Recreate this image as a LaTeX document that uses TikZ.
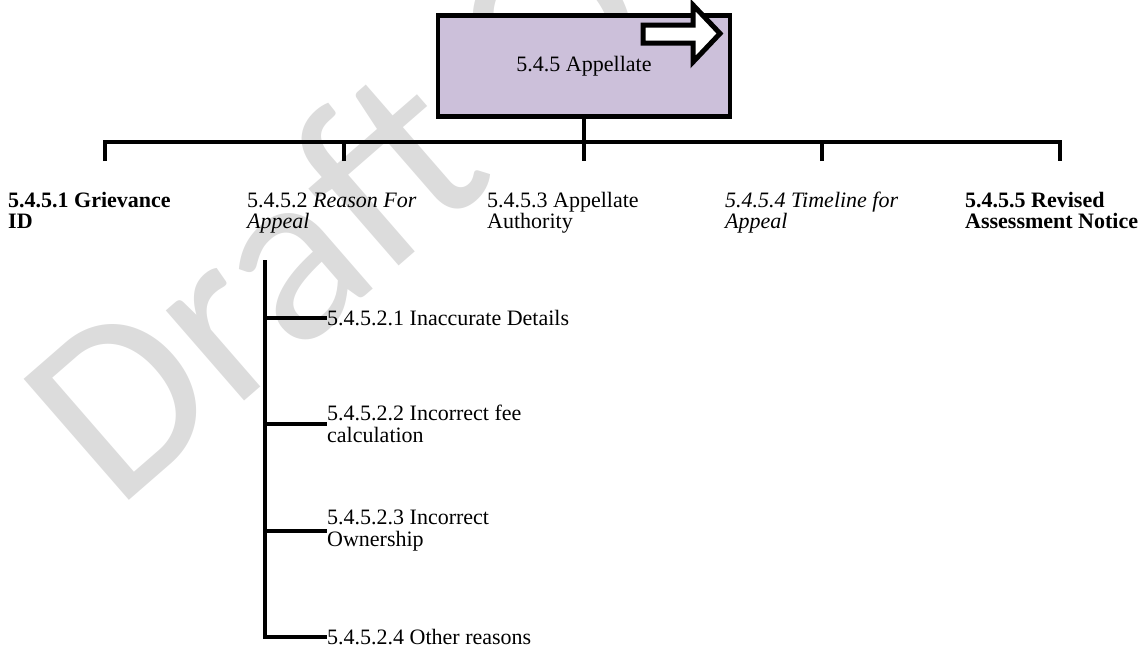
\documentclass[tikz,border=0pt]{standalone}
\usepackage{fontspec}
\setmainfont{Liberation Serif}
\newfontfamily\wmfont{Carlito}
\definecolor{lav}{RGB}{204,192,218}
\definecolor{wm}{RGB}{220,220,220}
\begin{document}
\begin{tikzpicture}[x=1pt,y=-1pt,
  conn/.style={line width=4.5pt, line join=miter},
  lbl/.style={anchor=base west, inner sep=0pt, align=left, font=\fontsize{22}{21.5}\selectfont},
  sub/.style={anchor=west, inner sep=0pt, align=left, font=\fontsize{22}{22}\selectfont},
  topbox/.style={draw, line width=4.5pt, fill=lav, minimum width=292pt, minimum height=101pt, inner sep=0pt, font=\fontsize{22}{22}\selectfont}]
\useasboundingbox (0,0) rectangle (1148,648);
% watermark
\begin{scope}
\clip (0,0) rectangle (1148,648);
\node[anchor=base west, rotate=41, inner sep=0pt, text=wm, font=\wmfont\fontsize{250}{250}\selectfont] (wmark) at (116,512) {Draft O};
\end{scope}
% main box
\node[topbox] (main) at (584,66) {5.4.5 Appellate};
\draw[line width=5pt, fill=white, line join=miter] (643,25) -- (693,25) -- (693,5) -- (720,33.5) -- (693,62) -- (693,43) -- (643,43) -- cycle;
% branch coordinates
\coordinate (j) at (584,142);
\coordinate (e1) at (105,161);
\coordinate (e2) at (344,161);
\coordinate (e3) at (584,161);
\coordinate (e4) at (822,161);
\coordinate (e5) at (1060,161);
\draw[conn] (main.south) -- (e3);
\draw[conn] (e1) |- (j) -| (e5);
\draw[conn] (e2) -- (e2 |- j);
\draw[conn] (e4) -- (e4 |- j);
% labels
\node[lbl] (l1) at (8,228.5) {\bfseries 5.4.5.1 Grievance\\\bfseries ID};
\node[lbl] (l2) at (247,228.5) {5.4.5.2 \itshape Reason For\\\itshape Appeal};
\node[lbl] (l3) at (487,228.5) {5.4.5.3 Appellate\\Authority};
\node[lbl] (l4) at (725,228.5) {\itshape 5.4.5.4 Timeline for\\\itshape Appeal};
\node[lbl] (l5) at (965,228.5) {\bfseries 5.4.5.5 Revised\\\bfseries Assessment Notice};
% sub branch
\coordinate (v0) at (265,260);
\coordinate (t1) at (265,318);
\coordinate (t2) at (265,424);
\coordinate (t3) at (265,531);
\coordinate (t4) at (265,637);
\node[sub] (s1) at (327,318) {5.4.5.2.1 Inaccurate Details};
\node[sub] (s2) at (327,424) {5.4.5.2.2 Incorrect fee\\calculation};
\node[sub] (s3) at (327,531) {5.4.5.2.3 Incorrect\\Ownership};
\node[sub] (s4) at (327,637) {5.4.5.2.4 Other reasons};
\draw[conn] (v0) -- (t4) -- (s4.west);
\draw[conn] (t1) -- (s1.west);
\draw[conn] (t2) -- (s2.west);
\draw[conn] (t3) -- (s3.west);
\end{tikzpicture}
\end{document}
